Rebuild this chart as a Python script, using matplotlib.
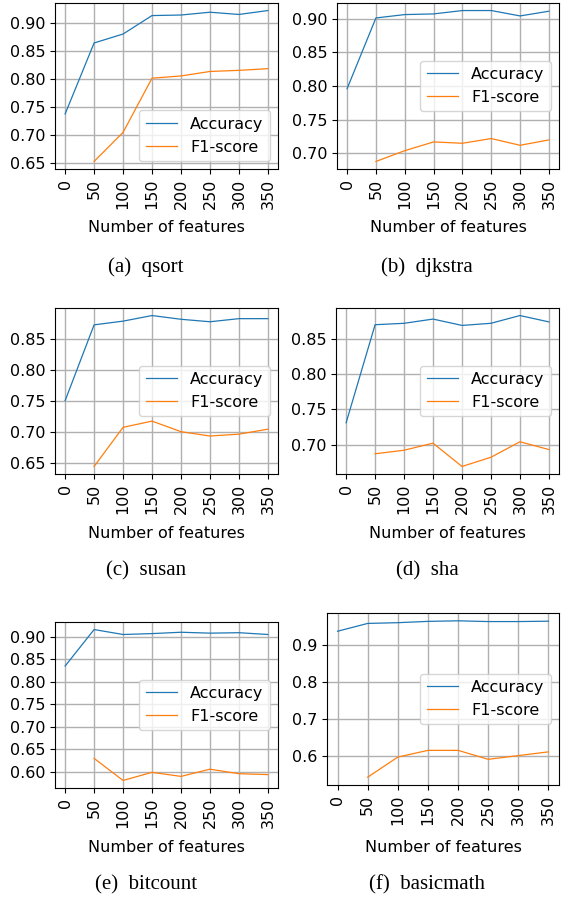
import numpy as np
import matplotlib
matplotlib.use("Agg")
import matplotlib.pyplot as plt
from matplotlib.ticker import MultipleLocator, FormatStrFormatter

plt.rcParams["font.family"] = ["DejaVu Sans"]

# number of features on the x axis
features = [0, 50, 100, 150, 200, 250, 300, 350]
f1_features = [50, 100, 150, 200, 250, 300, 350]

names = ["qsort", "djkstra", "susan", "sha", "bitcount", "basicmath"]
letters = ["a", "b", "c", "d", "e", "f"]

acc_qsort = [0.737, 0.864, 0.880, 0.913, 0.914, 0.919, 0.915, 0.922]
f1_qsort = [0.652, 0.704, 0.801, 0.805, 0.813, 0.815, 0.818]

acc_djkstra = [0.796, 0.901, 0.906, 0.907, 0.912, 0.912, 0.904, 0.911]
f1_djkstra = [0.688, 0.704, 0.717, 0.715, 0.722, 0.712, 0.720]

acc_susan = [0.750, 0.872, 0.878, 0.887, 0.881, 0.877, 0.882, 0.882]
f1_susan = [0.644, 0.707, 0.717, 0.700, 0.693, 0.696, 0.704]

acc_sha = [0.731, 0.870, 0.872, 0.878, 0.869, 0.872, 0.883, 0.874]
f1_sha = [0.687, 0.692, 0.702, 0.669, 0.682, 0.704, 0.693]

acc_bitcount = [0.835, 0.916, 0.905, 0.907, 0.910, 0.908, 0.909, 0.905]
f1_bitcount = [0.630, 0.581, 0.599, 0.590, 0.606, 0.596, 0.594]

acc_basicmath = [0.936, 0.957, 0.959, 0.9625, 0.964, 0.962, 0.962, 0.963]
f1_basicmath = [0.544, 0.598, 0.616, 0.616, 0.592, 0.602, 0.612]

accs = [acc_qsort, acc_djkstra, acc_susan, acc_sha, acc_bitcount, acc_basicmath]
f1s = [f1_qsort, f1_djkstra, f1_susan, f1_sha, f1_bitcount, f1_basicmath]

W, H = 569, 899
fig = plt.figure(figsize=(W / 100, H / 100), dpi=100)

# axes boxes in pixels: left, right, top, bottom
boxes = [
    (55, 278, 3, 169),
    (337, 559, 3, 169),
    (55, 278, 308, 474),
    (336, 559, 308, 474),
    (55, 278, 622, 788),
    (327, 559, 613, 785),
]
label_y = [228, 228, 533, 533, 847, 847]
caption_y = [267, 267, 571, 571, 885, 885]
caption_x = [146, 427, 146, 427, 146, 427]
legend_loc = ["lower right", "center right", "center right",
              "center right", "center right", "center right"]

fs = 11.5
for i in range(6):
    l, r, t, b = boxes[i]
    ax = fig.add_axes([l / W, 1 - b / H, (r - l) / W, (b - t) / H])
    ax.plot(features, accs[i], color="tab:blue", linewidth=0.9, label="Accuracy")
    ax.plot(f1_features, f1s[i], color="tab:orange", linewidth=0.9, label="F1-score")
    ax.grid(True, color="#b0b0b0", linewidth=1.0)
    ax.set_xticks(features)
    ax.set_xticklabels([str(f) for f in features], rotation=90)
    if i == 5:
        ax.yaxis.set_major_locator(MultipleLocator(0.1))
        ax.yaxis.set_major_formatter(FormatStrFormatter("%.1f"))
    else:
        ax.yaxis.set_major_locator(MultipleLocator(0.05))
        ax.yaxis.set_major_formatter(FormatStrFormatter("%.2f"))
    ax.tick_params(labelsize=fs)
    ax.legend(loc=legend_loc[i], fontsize=fs)
    fig.text((l + r) / 2 / W, 1 - label_y[i] / H, "Number of features",
             ha="center", va="center", fontsize=fs)
    fig.text(caption_x[i] / W, 1 - caption_y[i] / H,
             "(%s)  %s" % (letters[i], names[i]),
             ha="center", va="center", fontsize=15, family="Liberation Serif")

plt.savefig("out.png", dpi=100)
